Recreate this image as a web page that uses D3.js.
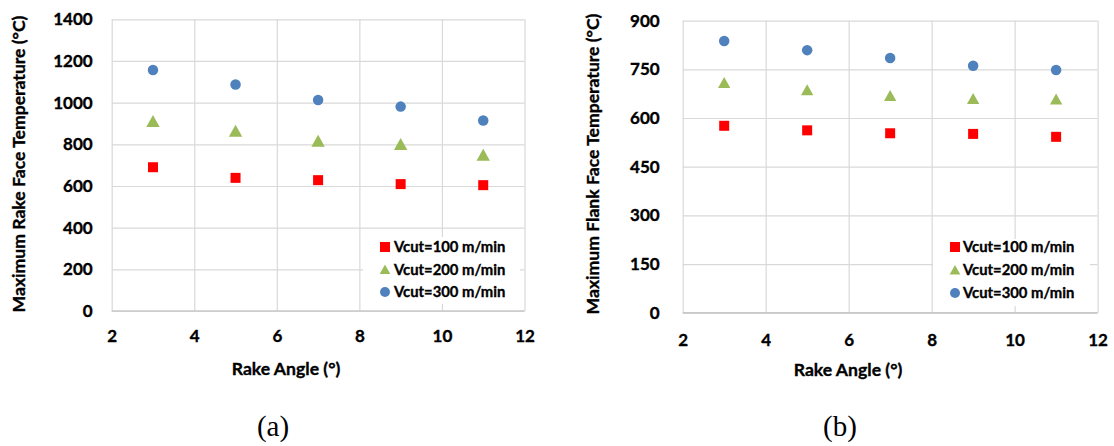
<!DOCTYPE html>
<html>
<head>
<meta charset="utf-8">
<script src="https://cdn.jsdelivr.net/npm/d3@7"></script>
<style>
  html, body { margin: 0; padding: 0; background: #fff; }
  svg { display: block; }
  text { font-family: Lato, "Liberation Sans", sans-serif; font-weight: bold; fill: #000; stroke: #000; stroke-width: 0.35px; }
  .caption { font-family: "Liberation Serif", "DejaVu Serif", serif; font-weight: normal; stroke: none; }
</style>
</head>
<body>
<svg id="fig" width="1114" height="446"></svg>
<script>
// Rake angle values shared by both panels
const rakeAngles = [3, 5, 7, 9, 11];

// (a) maximum rake face temperature, °C
const rakeFace100 = [690, 639, 628, 609, 604];
const rakeFace200 = [911, 864, 816, 800, 749];
const rakeFace300 = [1157, 1087, 1013, 981, 914];

// (b) maximum flank face temperature, °C
const flankFace100 = [576, 562, 553, 551, 542];
const flankFace200 = [709, 686, 669, 659, 658];
const flankFace300 = [837, 809, 785, 761, 748];

// axis ticks
const xTicks = [2, 4, 6, 8, 10, 12];
const rakeYTicks = [0, 200, 400, 600, 800, 1000, 1200, 1400];
const flankYTicks = [0, 150, 300, 450, 600, 750, 900];

const seriesLabels = ["Vcut=100 m/min", "Vcut=200 m/min", "Vcut=300 m/min"];
const seriesColors = ["#ff0000", "#9bbb59", "#4f81bd"];
const seriesShapes = ["square", "triangle", "circle"];

const svg = d3.select("#fig");

function markerPath(shape, size) {
  if (shape === "square") {
    const h = size / 2;
    return `M${-h},${-h}H${h}V${h}H${-h}Z`;
  }
  if (shape === "triangle") {
    const w = size * 0.56, t = size * 0.52, b = size * 0.48;
    return `M0,${-t}L${w},${b}L${-w},${b}Z`;
  }
  const r = size / 2;
  return `M${r},0A${r},${r} 0 1,1 ${-r},0A${r},${r} 0 1,1 ${r},0Z`;
}

function drawPanel(p) {
  const g = svg.append("g");
  const x = d3.scaleLinear().domain([2, 12]).range([p.left, p.right]);
  const y = d3.scaleLinear().domain([0, p.yTicks[p.yTicks.length - 1]]).range([p.bottom, p.top]);
  const w = p.right - p.left, h = p.bottom - p.top;

  // horizontal gridlines + y tick labels
  const gy = g.append("g")
    .attr("transform", `translate(${p.left},0)`)
    .call(d3.axisLeft(y).tickValues(p.yTicks).tickFormat(d3.format("d"))
      .tickSizeInner(-w).tickSizeOuter(0).tickPadding(p.yPad));
  gy.select(".domain").remove();
  gy.selectAll("line").attr("stroke", "#d9d9d9").attr("stroke-width", 1.2);
  gy.selectAll("text").style("font-size", "17px").attr("font-family", null);

  // vertical gridlines + x tick labels
  const gx = g.append("g")
    .attr("transform", `translate(0,${p.bottom})`)
    .call(d3.axisBottom(x).tickValues(xTicks).tickFormat(d3.format("d"))
      .tickSizeInner(-h).tickSizeOuter(0).tickPadding(p.xPad));
  gx.select(".domain").remove();
  gx.selectAll("line").attr("stroke", "#d9d9d9").attr("stroke-width", 1.2);
  gx.selectAll("text").style("font-size", "17px").attr("font-family", null);

  // baseline along zero
  g.append("line")
    .attr("x1", p.left).attr("x2", p.right)
    .attr("y1", y(0)).attr("y2", y(0))
    .attr("stroke", "#c8c8c8").attr("stroke-width", 1.4);

  // legend box (white, hides gridlines underneath)
  const lg = g.append("g");
  lg.append("rect")
    .attr("x", p.legend.x0).attr("y", p.legend.y0)
    .attr("width", p.legend.x1 - p.legend.x0).attr("height", p.legend.y1 - p.legend.y0)
    .attr("fill", "#fff");

  // data markers
  p.series.forEach((vals, i) => {
    g.append("g").selectAll("path")
      .data(vals)
      .join("path")
      .attr("transform", (d, j) => `translate(${x(rakeAngles[j])},${y(d)})`)
      .attr("d", markerPath(seriesShapes[i], p.markerSize[i]))
      .attr("fill", seriesColors[i]);
  });

  // legend entries
  seriesLabels.forEach((lab, i) => {
    const cy = p.legend.rowY + i * p.legend.rowGap;
    lg.append("path")
      .attr("transform", `translate(${p.legend.markX},${cy})`)
      .attr("d", markerPath(seriesShapes[i], i === 1 ? 9.5 : 10))
      .attr("fill", seriesColors[i]);
    lg.append("text")
      .attr("x", p.legend.textX).attr("y", cy)
      .attr("dy", "0.36em")
      .style("font-size", "14.8px")
      .text(lab);
  });

  // axis titles
  g.append("text")
    .attr("transform", `translate(${p.yTitleX},${p.yTitleY}) rotate(-90)`)
    .attr("text-anchor", "middle")
    .attr("dy", "0.36em")
    .style("font-size", "17.6px")
    .text(p.yTitle);
  g.append("text")
    .attr("x", p.xTitleX).attr("y", p.xTitleY)
    .attr("text-anchor", "middle")
    .attr("dy", "0.36em")
    .style("font-size", "17.6px")
    .text("Rake Angle (°)");

  // panel caption
  g.append("text")
    .attr("class", "caption")
    .attr("x", p.capX).attr("y", 436)
    .attr("text-anchor", "middle")
    .style("font-size", "29px")
    .text(p.caption);
}

drawPanel({
  left: 111.7, right: 524.5, top: 19.3, bottom: 311,
  yTicks: rakeYTicks, yPad: 19, xPad: 19,
  series: [rakeFace100, rakeFace200, rakeFace300],
  markerSize: [10, 12, 10.5],
  legend: { x0: 363, x1: 520, y0: 237, y1: 304, markX: 385, textX: 394, rowY: 247, rowGap: 22.5 },
  yTitle: "Maximum Rake Face Temperature (°C)", yTitleX: 19, yTitleY: 164,
  xTitleX: 286, xTitleY: 369,
  capX: 273, caption: "(a)"
});

drawPanel({
  left: 682.7, right: 1097.6, top: 20.6, bottom: 312.8,
  yTicks: flankYTicks, yPad: 23, xPad: 21,
  series: [flankFace100, flankFace200, flankFace300],
  markerSize: [10, 11, 10.5],
  legend: { x0: 933, x1: 1090, y0: 239, y1: 306, markX: 955, textX: 963, rowY: 247, rowGap: 23 },
  yTitle: "Maximum Flank Face Temperature (°C)", yTitleX: 593, yTitleY: 164,
  xTitleX: 848, xTitleY: 370,
  capX: 840, caption: "(b)"
});
</script>
</body>
</html>
